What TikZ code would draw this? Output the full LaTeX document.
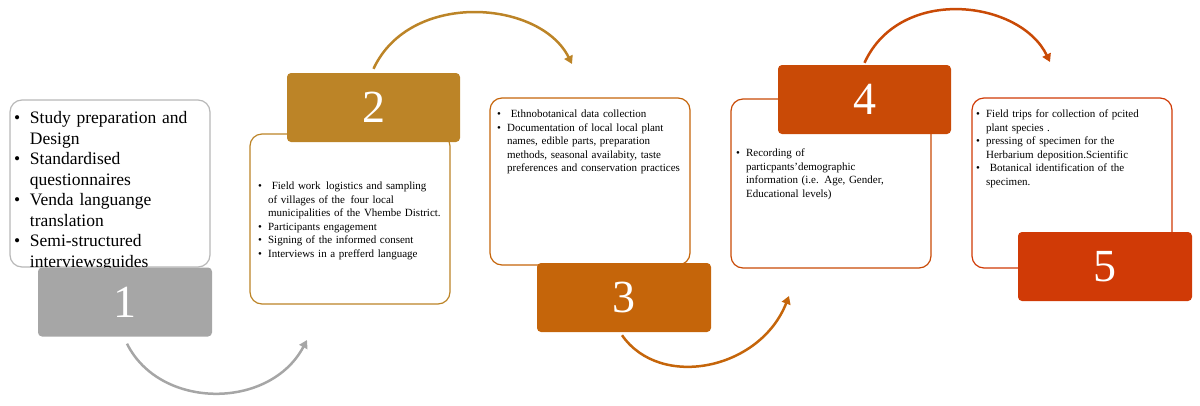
\documentclass[tikz,border=0pt]{standalone}
\usepackage{fontspec}
\setmainfont{Liberation Serif}
\usetikzlibrary{arrows.meta}
\newcommand{\bi}[1]{\par\hangindent=0.9em\hangafter=1\noindent\makebox[0.9em][l]{\textbullet}#1\par}
\newcommand{\nohy}{\hyphenpenalty 10000 \exhyphenpenalty 10000 }
\definecolor{cA}{HTML}{A6A6A6}
\definecolor{cB}{HTML}{BC8427}
\definecolor{cC}{HTML}{C5650A}
\definecolor{cD}{HTML}{C94A06}
\definecolor{cE}{HTML}{D03A06}
\begin{document}
\begin{tikzpicture}[x=1pt,y=-1pt,
  tbox/.style={draw=#1,line width=1.2pt,rounded corners=12pt,fill=white},
  lbox/.style={fill=#1,rounded corners=4pt,text=white,font=\fontsize{46}{46}\selectfont},
  txt/.style={anchor=north west,text width=190pt,align=left,inner sep=0pt,font=\fontsize{11}{13.5}\selectfont\nohy},
  arr/.style={draw=#1,line width=2.5pt,-{Triangle[length=8pt,width=9pt]}}]
\useasboundingbox (0,0) rectangle (1200,405);
% box 1
\draw[tbox=cA!80] (10,100) rectangle (210,267);
\node[txt,font=\fontsize{17.5}{20.5}\selectfont\nohy,text width=190pt] (t1) at (14,103) {\bi{Study preparation and Design}\bi{Standardised questionnaires}\bi{Venda languange translation}\bi{Semi-structured interviewsguides}};
\node[lbox=cA,minimum width=174pt,minimum height=69pt] (n1) at (125,302) {1};
% box 2
\draw[tbox=cB] (250,134) rectangle (450,304);
\node[lbox=cB,minimum width=173pt,minimum height=69pt] (n2) at (373.5,107.5) {2};
\node[txt,text width=185pt] (t2) at (258,176) {\bi{ Field work\, logistics and sampling of villages of the\, four local municipalities of the Vhembe District.}\bi{Participants engagement}\bi{Signing of the informed consent}\bi{Interviews in a prefferd language}};
% box 3
\draw[tbox=cC] (490,98) rectangle (690,265);
\node[lbox=cC,minimum width=174pt,minimum height=69pt] (n3) at (624,297.5) {3};
\node[txt,text width=185pt] (t3) at (497,104) {\bi{ Ethnobotanical data collection}\bi{Documentation of local local plant names, edible parts, preparation methods, seasonal availabity, taste preferences and conservation practices}};
% box 4
\draw[tbox=cD] (731,99) rectangle (931,268);
\node[lbox=cD,minimum width=173pt,minimum height=69pt] (n4) at (864.5,99.5) {4};
\node[txt,text width=150pt] (t4) at (736,143) {\bi{Recording of particpants'demographic information (i.e. Age, Gender, Educational levels)}};
% box 5
\draw[tbox=cE] (972,98) rectangle (1172,268);
\node[lbox=cE,minimum width=174pt,minimum height=69pt] (n5) at (1105,266.5) {5};
\node[txt,text width=185pt] (t5) at (976,104) {\bi{Field trips for collection of pcited plant species .}\bi{pressing of specimen for the Herbarium deposition.Scientific}\bi{ Botanical identification of the specimen.}};
% arrows
\coordinate (a1) at (307,340);
\coordinate (a2) at (572,64);
\coordinate (a3) at (789,296);
\coordinate (a4) at (1050,62);
\draw[arr=cA] (n1.south) ++(2,7) .. controls (160,410) and (270,410) .. (a1);
\draw[arr=cB] (n2.north) ++(0,-4) .. controls (410,-10) and (540,0) .. (a2);
\draw[arr=cC] (n3.south) ++(-2,3) .. controls (660,390) and (760,370) .. (a3);
\draw[arr=cD] (n4.north) ++(0,-2) .. controls (900,-15) and (1020,0) .. (a4);
\end{tikzpicture}
\end{document}
